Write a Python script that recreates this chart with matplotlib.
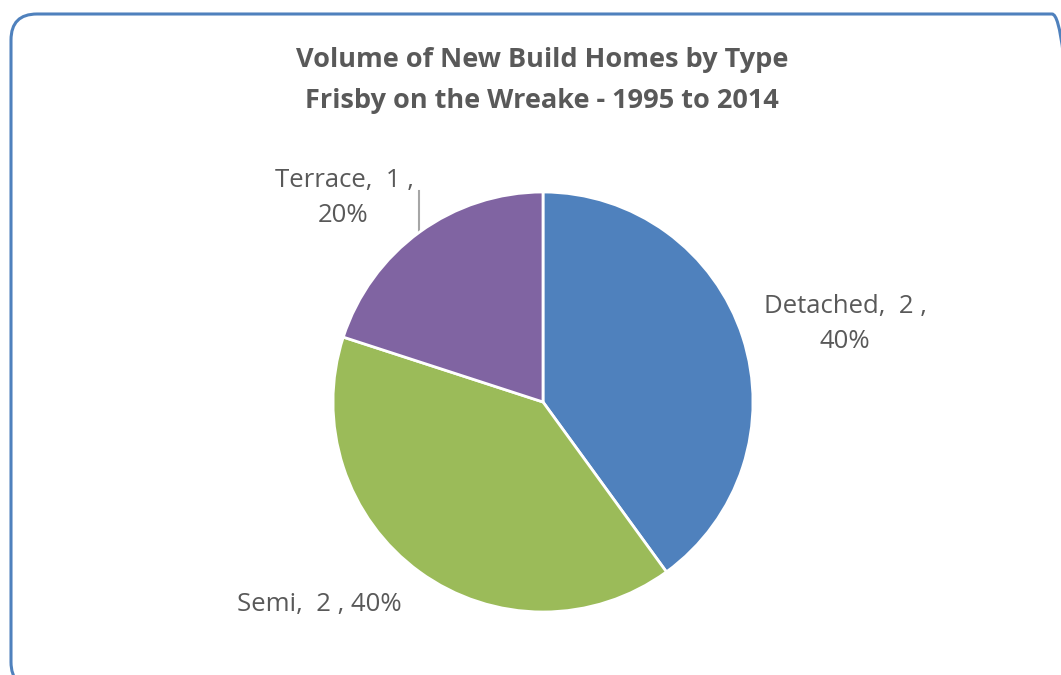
import matplotlib
matplotlib.use("Agg")
import matplotlib.pyplot as plt
from matplotlib.patches import FancyBboxPatch

categories = ["Detached", "Semi", "Terrace"]
values = [2, 2, 1]
colors = ["#4F81BD", "#9BBB59", "#8064A2"]
title_lines = ["Volume of New Build Homes by Type", "Frisby on the Wreake - 1995 to 2014"]

W, H = 1061, 675
plt.rcParams['font.family'] = ['Open Sans', 'DejaVu Sans']
fig = plt.figure(figsize=(W / 100, H / 100), dpi=100)

def Y(y):
    return H - y

# background axes in pixel coordinates (y measured from the top via Y())
bg = fig.add_axes([0, 0, 1, 1])
bg.set_xlim(0, W)
bg.set_ylim(0, H)
bg.axis("off")
box = FancyBboxPatch((11, Y(688)), 1078 - 11, 688 - 14,
                     boxstyle="round,pad=0,rounding_size=26",
                     fill=False, edgecolor="#4F81BD", linewidth=2.2, clip_on=False)
bg.add_patch(box)

tc = "#595959"
bg.text(542, Y(60), title_lines[0], ha="center", va="center",
        fontsize=19.5, fontweight="bold", color=tc)
bg.text(542, Y(101), title_lines[1], ha="center", va="center",
        fontsize=19.5, fontweight="bold", color=tc)

total = sum(values)
pct = [f"{round(100 * v / total)}%" for v in values]
lab = [f"{c},  {v} ," for c, v in zip(categories, values)]
lfs = 18.5
bg.text(845, Y(306), lab[0], ha="center", va="center", fontsize=lfs, color=tc)
bg.text(845, Y(342), pct[0], ha="center", va="center", fontsize=lfs, color=tc)
bg.text(319, Y(604), f"{categories[1]},  {values[1]} , {pct[1]}", ha="center", va="center",
        fontsize=lfs, color=tc)
bg.text(344, Y(181), lab[2], ha="center", va="center", fontsize=lfs, color=tc)
bg.text(343, Y(216), pct[2], ha="center", va="center", fontsize=lfs, color=tc)

# leader line for Terrace
bg.plot([419, 419], [Y(191), Y(234)], color="#A6A6A6", linewidth=1.5)

cx, cy, r = 543, 402, 210
ax = fig.add_axes([(cx - r) / W, 1 - (cy + r) / H, 2 * r / W, 2 * r / H])
ax.pie(values, colors=colors, startangle=90, counterclock=False,
       wedgeprops=dict(edgecolor="white", linewidth=2))
ax.set_xlim(-1, 1)
ax.set_ylim(-1, 1)
ax.set_aspect("equal")
ax.axis("off")

fig.savefig("out.png", dpi=100)
